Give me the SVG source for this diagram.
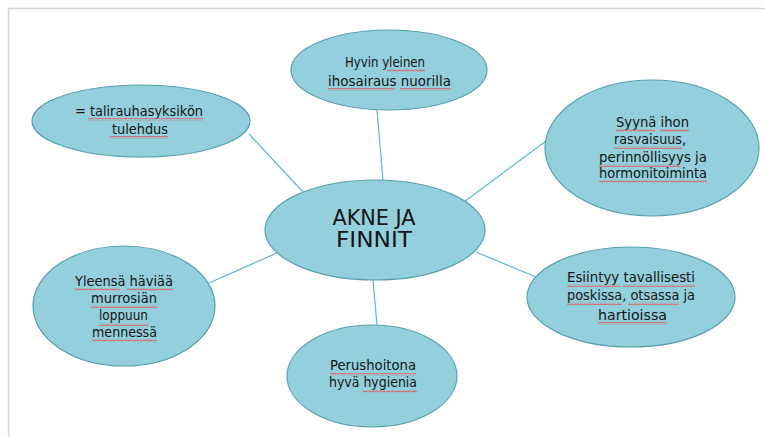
<svg xmlns="http://www.w3.org/2000/svg" width="765" height="437" viewBox="0 0 765 437">
  <defs>
    <!-- spell-check style red wave used under words -->
    <pattern id="wavy" patternUnits="userSpaceOnUse" width="4" height="3">
      <path d="M0 2.3 L1 0.7 L2 2.3 L3 0.7 L4 2.3" fill="none" stroke="#e45858" stroke-width="0.7"/>
    </pattern>
    <style>
      .bubble { fill: #93cfdc; stroke: #5a9fb0; stroke-width: 1.2; }
      .link { stroke: #5ab8cf; stroke-width: 1.2; fill: none; }
      .t { font-family: "DejaVu Sans", "Liberation Sans", sans-serif; font-size: 14px; fill: #151515; text-anchor: middle; }
      .title { font-size: 21px; }
      .sq { fill: url(#wavy); }
    </style>
  </defs>

  <rect width="765" height="437" fill="#ffffff"/>
  <!-- page frame -->
  <path d="M8.5 437 V8.5 H765" fill="none" stroke="#d4d4d4" stroke-width="1.5"/>

  <g id="connectors">
    <path class="link" d="M377 110 L383 180"/>
    <path class="link" d="M249 134 L303 192"/>
    <path class="link" d="M464 202 L550 138"/>
    <path class="link" d="M476 252 L536 277"/>
    <path class="link" d="M209 283 L277 253"/>
    <path class="link" d="M373 280 L377 325"/>
  </g>

  <g id="node-yleinen">
    <ellipse class="bubble" cx="389" cy="70" rx="98" ry="40"/>
    <text class="t" x="385" y="67" textLength="80" lengthAdjust="spacingAndGlyphs">Hyvin yleinen</text>
    <text class="t" x="389.5" y="86" textLength="123" lengthAdjust="spacingAndGlyphs">ihosairaus nuorilla</text>
    <rect class="sq" x="387" y="69" width="38" height="3"/>
    <rect class="sq" x="328" y="88" width="67" height="3"/>
    <rect class="sq" x="400" y="88" width="51" height="3"/>
  </g>

  <g id="node-talirauhanen">
    <ellipse class="bubble" cx="141" cy="121" rx="109" ry="36"/>
    <text class="t" x="139" y="116" textLength="128" lengthAdjust="spacingAndGlyphs">= talirauhasyksikön</text>
    <text class="t" x="140" y="134" textLength="56" lengthAdjust="spacingAndGlyphs">tulehdus</text>
    <rect class="sq" x="88" y="118" width="115" height="3"/>
    <rect class="sq" x="110" y="136" width="58" height="3"/>
  </g>

  <g id="node-syyt">
    <ellipse class="bubble" cx="652" cy="148" rx="107" ry="68"/>
    <text class="t" x="652.5" y="127" textLength="73" lengthAdjust="spacingAndGlyphs">Syynä ihon</text>
    <text class="t" x="650" y="144" textLength="72" lengthAdjust="spacingAndGlyphs">rasvaisuus,</text>
    <text class="t" x="653" y="162" textLength="108" lengthAdjust="spacingAndGlyphs">perinnöllisyys ja</text>
    <text class="t" x="653" y="178" textLength="108" lengthAdjust="spacingAndGlyphs">hormonitoiminta</text>
    <rect class="sq" x="616" y="129" width="39" height="3"/>
    <rect class="sq" x="660" y="129" width="29" height="3"/>
    <rect class="sq" x="614" y="146" width="68" height="3"/>
    <rect class="sq" x="599" y="164" width="81" height="3"/>
    <rect class="sq" x="599" y="180" width="108" height="3"/>
  </g>

  <g id="node-akne">
    <ellipse class="bubble" cx="375" cy="230" rx="110" ry="50"/>
    <text class="t title" x="374" y="225" textLength="83" lengthAdjust="spacingAndGlyphs">AKNE JA</text>
    <text class="t title" x="374" y="247" textLength="76" lengthAdjust="spacingAndGlyphs">FINNIT</text>
  </g>

  <g id="node-haviaa">
    <ellipse class="bubble" cx="124" cy="306" rx="91" ry="60"/>
    <text class="t" x="124" y="286" textLength="98" lengthAdjust="spacingAndGlyphs">Yleensä häviää</text>
    <text class="t" x="124" y="303" textLength="66" lengthAdjust="spacingAndGlyphs">murrosiän</text>
    <text class="t" x="123.5" y="320" textLength="49" lengthAdjust="spacingAndGlyphs">loppuun</text>
    <text class="t" x="124.5" y="337" textLength="65" lengthAdjust="spacingAndGlyphs">mennessä</text>
    <rect class="sq" x="75" y="288" width="45" height="3"/>
    <rect class="sq" x="127" y="288" width="46" height="3"/>
    <rect class="sq" x="91" y="305" width="66" height="3"/>
    <rect class="sq" x="99" y="323" width="49" height="3"/>
    <rect class="sq" x="92" y="339" width="65" height="3"/>
  </g>

  <g id="node-esiintyy">
    <ellipse class="bubble" cx="631" cy="297" rx="104" ry="50"/>
    <text class="t" x="631" y="282" textLength="128" lengthAdjust="spacingAndGlyphs">Esiintyy tavallisesti</text>
    <text class="t" x="631" y="300" textLength="128" lengthAdjust="spacingAndGlyphs">poskissa, otsassa ja</text>
    <text class="t" x="632.5" y="320" textLength="69" lengthAdjust="spacingAndGlyphs">hartioissa</text>
    <rect class="sq" x="567" y="284" width="53" height="3"/>
    <rect class="sq" x="623" y="284" width="72" height="3"/>
    <rect class="sq" x="567" y="302" width="55" height="3"/>
    <rect class="sq" x="628" y="302" width="51" height="3"/>
    <rect class="sq" x="598" y="322" width="69" height="3"/>
  </g>

  <g id="node-hoito">
    <ellipse class="bubble" cx="372" cy="376" rx="85" ry="51"/>
    <text class="t" x="373" y="370" textLength="86" lengthAdjust="spacingAndGlyphs">Perushoitona</text>
    <text class="t" x="373" y="387" textLength="88" lengthAdjust="spacingAndGlyphs">hyvä hygienia</text>
    <rect class="sq" x="330" y="373" width="86" height="3"/>
    <rect class="sq" x="363" y="390" width="54" height="3"/>
  </g>
</svg>
